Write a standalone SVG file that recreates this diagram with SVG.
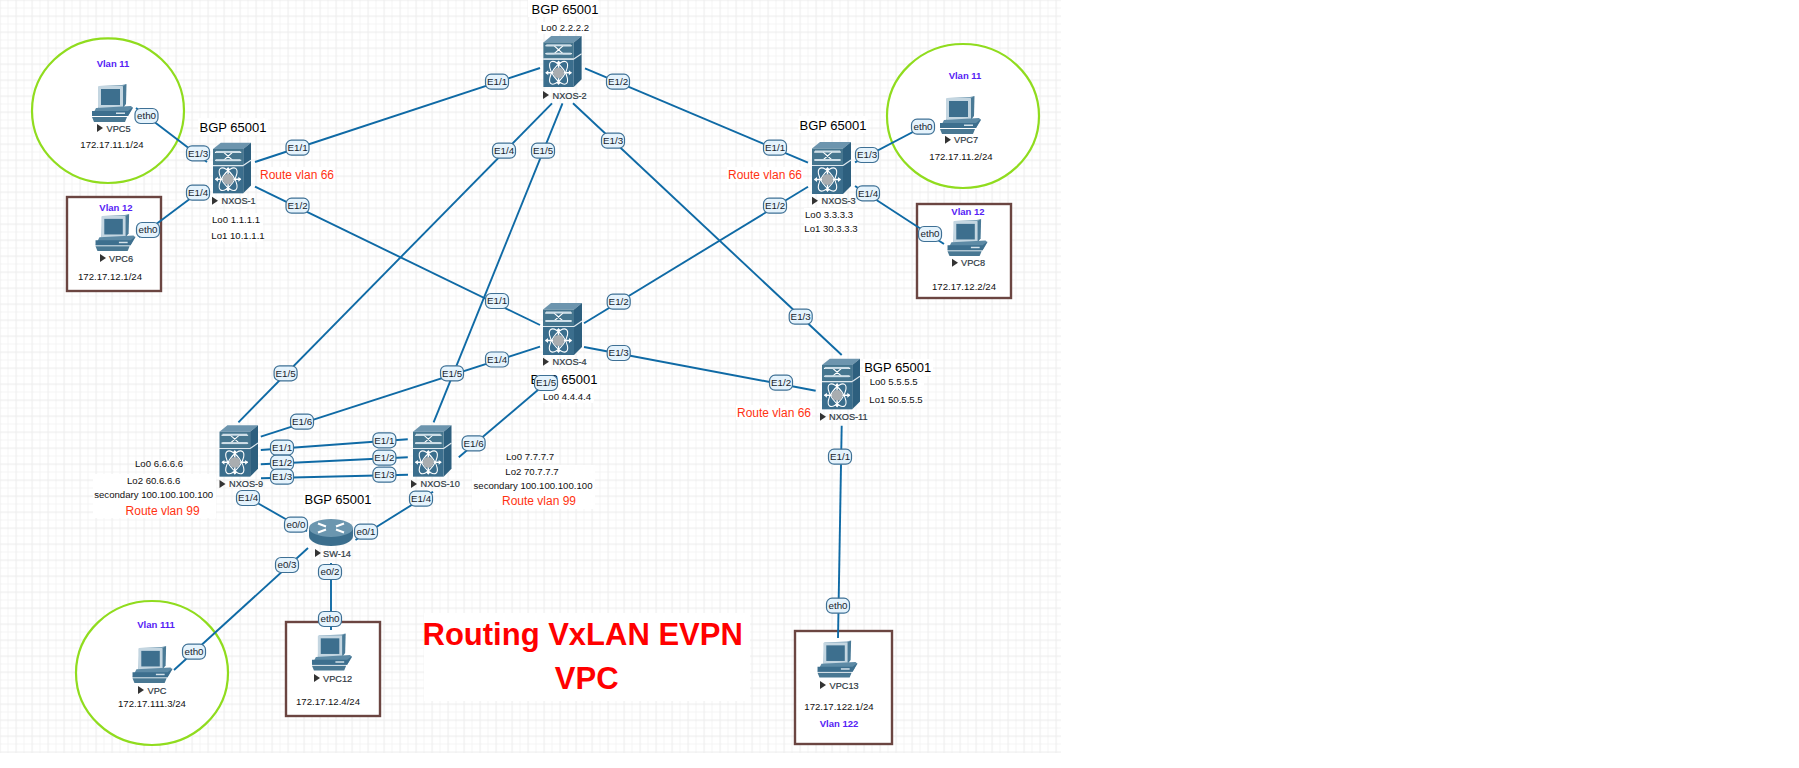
<svg xmlns="http://www.w3.org/2000/svg" width="1799" height="768" viewBox="0 0 1799 768">
<style>
text{font-family:"Liberation Sans",Arial,sans-serif}
.bgp{font-size:13px;fill:#000;text-anchor:middle}
.sm{font-size:9.6px;fill:#111;text-anchor:middle}
.rt{font-size:12px;fill:#ff3312;text-anchor:middle}
.vl{font-size:9.5px;font-weight:bold;fill:#5522f5;text-anchor:middle}
.nm{font-size:9.2px;fill:#2f3a44;text-anchor:start;stroke:#2f3a44;stroke-width:.2}
.pt{font-size:9.8px;fill:#16232d;text-anchor:middle}
.ti{font-size:31px;font-weight:bold;fill:#f00;text-anchor:middle}
.ln{stroke:#0f6aa5;stroke-width:1.9;fill:none}
.tri{fill:#333}
.wb{fill:#fff}
.cir{fill:#fff;stroke:#90dc1e;stroke-width:2.2}
.box{fill:#fff;stroke:#6b4541;stroke-width:2.4}
.lb{fill:#e5f3fc;stroke:#3e7095;stroke-width:1.2}
</style>
<defs>
<pattern id="grid" width="16" height="16" patternUnits="userSpaceOnUse" x="-.5" y="-.5">
<path d="M8.5 0V16M0 8.5H16" stroke="#f4f4f4" stroke-width="1" fill="none"/>
<path d="M.5 0V16M0 .5H16" stroke="#eeeeee" stroke-width="1.4" fill="none"/>
</pattern>
<symbol id="sw" viewBox="0 0 39 52" overflow="visible">
<polygon points="0,6.500 8,0 39,0 31,6.500" fill="#6d95ae"/>
<polygon points="31,6.500 39,0 39,44 31,52" fill="#2d5f7e"/>
<rect x="0" y="6.500" width="31" height="16.500" fill="#46768f"/>
<rect x="0" y="24" width="31" height="28" fill="#3b6e8d"/>
<path d="M0 23.500H31M31 23.500L39 18" stroke="#dfe9ef" stroke-width="1.200" fill="none"/>
<path d="M2 10H11L20 18H29M2 18H11L20 10H29" stroke="#fff" stroke-width="1.100" fill="none"/>
<rect x="3" y="8.500" width="25" height="2" fill="#cfdfe8"/>
<rect x="3" y="17" width="25" height="2" fill="#cfdfe8"/>
<g fill="none" stroke="#fff" stroke-width="1.100">
<ellipse cx="15.500" cy="37.500" rx="13.500" ry="6" transform="rotate(55 15.500 37.500)"/>
<ellipse cx="15.500" cy="37.500" rx="13.500" ry="6" transform="rotate(-55 15.500 37.500)"/>
</g>
<path d="M15.500 26V49M2.500 37.500H28.500" stroke="#fff" stroke-width="1.500"/>
<path d="M15.500 25l-2.500 3h5zM15.500 50l-2.500-3h5zM2 37.500l3-2.500v5zM29 37.500l-3-2.500v5z" fill="#fff"/>
<circle cx="15.500" cy="37.500" r="5.500" fill="#a9adb0"/>
</symbol>
<symbol id="rt" viewBox="0 0 44 27" overflow="visible">
<path d="M0 9V17C0 23 10 27 22 27S44 23 44 17V9Z" fill="#3b6e8d"/>
<ellipse cx="22" cy="9" rx="22" ry="9" fill="#6b96af"/>
<path d="M9 4.500l8 3M35 4.500l-8 3M9 13.500l8-3M35 13.500l-8-3" stroke="#fff" stroke-width="2" fill="none"/>
</symbol>
<symbol id="pc" viewBox="0 0 42 38" overflow="visible">
<polygon points="8,2 31,1 35,0 34,20 30,24 7,24" fill="#7ea3b9"/>
<rect x="7" y="2" width="25" height="22" rx="1" fill="#c4d6e1"/>
<rect x="10" y="5" width="19" height="16" fill="#3d6f8e"/>
<polygon points="32,2 35.500,0 35,20 32,24" fill="#4a7a96"/>
<polygon points="5,24 40,22 42,24 37,32 1,32" fill="#5d8aa5"/>
<polygon points="1,27 37,27 42,23 37,32 1,32" fill="#3d6f8e"/>
<rect x="25" y="28.500" width="9" height="1.500" fill="#d5e2ea"/>
<polygon points="1,33 36,33 34,38 3,38" fill="#497893"/>
</symbol>
<rect id="pb" x="-11.500" y="-7.500" width="23" height="15" rx="5.500" class="lb"/>
<polygon id="pl" points="0,-4 6,0 0,4" class="tri"/>
</defs>
<rect width="1799" height="768" fill="#fff"/>
<rect width="1061" height="753" fill="url(#grid)"/>

<g id="vpc5"><ellipse class="cir" cx="108" cy="110.700" rx="76" ry="72.300"/><text class="vl" x="113" y="67">Vlan 11</text><use href="#pc" x="91" y="84" width="42" height="38"/><use href="#pl" x="97" y="128"/><text class="nm" x="106.500" y="131.500">VPC5</text><text class="sm" x="112" y="148">172.17.11.1/24</text></g>
<g id="vpc6"><rect class="box" x="67" y="197" width="94" height="94"/><text class="vl" x="116" y="211">Vlan 12</text><use href="#pc" x="94" y="214" width="42" height="37"/><use href="#pl" x="100" y="258"/><text class="nm" x="109" y="261.500">VPC6</text><text class="sm" x="110" y="280">172.17.12.1/24</text></g>
<g id="nxos1"><use href="#sw" x="213" y="142" width="38" height="52"/><use href="#pl" x="212" y="200.700"/><text class="nm" x="221.500" y="204">NXOS-1</text>
<rect class="wb" x="198" y="118" width="70" height="17"/><text class="bgp" x="233" y="132">BGP 65001</text>
<rect class="wb" x="259" y="167" width="76" height="15"/><text class="rt" x="297" y="179">Route vlan 66</text>
<rect class="wb" x="211" y="213" width="52" height="29"/><text class="sm" x="236" y="223">Lo0 1.1.1.1</text><text class="sm" x="238" y="239">Lo1 10.1.1.1</text></g>
<g id="nxos2"><rect class="wb" x="528" y="0" width="70" height="17"/><text class="bgp" x="565" y="14">BGP 65001</text><rect class="wb" x="538" y="22" width="52" height="12"/><text class="sm" x="565" y="31">Lo0 2.2.2.2</text><use href="#sw" x="543" y="36" width="39" height="51"/><use href="#pl" x="543" y="95"/><text class="nm" x="552.500" y="98.500">NXOS-2</text></g>
<g id="nxos3"><rect class="wb" x="798" y="116" width="70" height="17"/><text class="bgp" x="833" y="130">BGP 65001</text><use href="#sw" x="812" y="142" width="39" height="52"/><use href="#pl" x="812" y="200.700"/><text class="nm" x="821.500" y="204">NXOS-3</text>
<rect class="wb" x="727" y="167" width="76" height="15"/><text class="rt" x="765" y="179">Route vlan 66</text>
<rect class="wb" x="804" y="208" width="54" height="27"/><text class="sm" x="829" y="218">Lo0 3.3.3.3</text><text class="sm" x="831" y="232">Lo1 30.3.3.3</text></g>
<g id="nxos4"><use href="#sw" x="543" y="303" width="39" height="52"/><use href="#pl" x="543" y="361.700"/><text class="nm" x="552.500" y="365">NXOS-4</text><rect class="wb" x="530" y="371" width="70" height="17"/><text class="bgp" x="564" y="384">BGP 65001</text><rect class="wb" x="542" y="390" width="52" height="13"/><text class="sm" x="567" y="400">Lo0 4.4.4.4</text></g>
<g id="nxos11"><use href="#sw" x="822" y="358" width="38" height="52"/><use href="#pl" x="820" y="416.700"/><text class="nm" x="829" y="420">NXOS-11</text><rect class="wb" x="863" y="359" width="70" height="17"/><text class="bgp" x="897.700" y="372">BGP 65001</text><rect class="wb" x="868" y="376" width="56" height="30"/><text class="sm" x="893.700" y="385">Lo0 5.5.5.5</text><text class="sm" x="896" y="403">Lo1 50.5.5.5</text><rect class="wb" x="736" y="405" width="76" height="15"/><text class="rt" x="774" y="417">Route vlan 66</text></g>
<g id="nxos9"><use href="#sw" x="219.500" y="425" width="38.500" height="52"/><use href="#pl" x="219.500" y="484"/><text class="nm" x="229" y="487.300">NXOS-9</text>
<rect class="wb" x="93" y="474" width="123" height="44"/><text class="sm" x="159" y="467">Lo0 6.6.6.6</text><text class="sm" x="153.700" y="484">Lo2 60.6.6.6</text><text class="sm" x="153.700" y="498">secondary 100.100.100.100</text><text class="rt" x="162.600" y="515">Route vlan 99</text></g>
<g id="nxos10"><use href="#sw" x="413" y="425" width="38.500" height="52"/><use href="#pl" x="411" y="484"/><text class="nm" x="420.500" y="487.300">NXOS-10</text>
<rect class="wb" x="472" y="465" width="123" height="44"/><text class="sm" x="530" y="460">Lo0 7.7.7.7</text><text class="sm" x="532" y="475">Lo2 70.7.7.7</text><text class="sm" x="533" y="488.500">secondary 100.100.100.100</text><text class="rt" x="539" y="505">Route vlan 99</text></g>
<g id="sw14"><rect class="wb" x="303" y="491" width="70" height="17"/><text class="bgp" x="338" y="504">BGP 65001</text><use href="#rt" x="309" y="519" width="44" height="27"/><use href="#pl" x="315" y="553"/><text class="nm" x="323" y="556.500">SW-14</text></g>
<g id="vpc7"><ellipse class="cir" cx="963" cy="116" rx="76" ry="72"/><text class="vl" x="965" y="78.500">Vlan 11</text><use href="#pc" x="939" y="96" width="42" height="38"/><use href="#pl" x="945" y="139.700"/><text class="nm" x="954" y="143">VPC7</text><text class="sm" x="961" y="160">172.17.11.2/24</text></g>
<g id="vpc8"><rect class="box" x="917" y="204" width="94" height="94"/><text class="vl" x="968" y="215">Vlan 12</text><use href="#pc" x="946" y="219" width="42" height="37"/><use href="#pl" x="952" y="262.700"/><text class="nm" x="961" y="266">VPC8</text><text class="sm" x="964" y="290">172.17.12.2/24</text></g>
<g id="vpc"><ellipse class="cir" cx="152" cy="673" rx="76" ry="72"/><text class="vl" x="156" y="628">Vlan 111</text><use href="#pc" x="131" y="646" width="42" height="37"/><use href="#pl" x="138" y="690"/><text class="nm" x="147.500" y="693.500">VPC</text><text class="sm" x="152" y="707">172.17.111.3/24</text></g>
<g id="vpc12"><rect class="box" x="286" y="622" width="94" height="94"/><use href="#pc" x="311" y="633" width="41" height="38"/><use href="#pl" x="314" y="678"/><text class="nm" x="323" y="681.500">VPC12</text><text class="sm" x="328" y="705">172.17.12.4/24</text></g>
<g id="vpc13"><rect class="box" x="795" y="631" width="97" height="113"/><use href="#pc" x="816" y="640.500" width="42" height="37"/><use href="#pl" x="820" y="685"/><text class="nm" x="829.500" y="688.500">VPC13</text><text class="sm" x="839" y="710">172.17.122.1/24</text><text class="vl" x="839" y="727">Vlan 122</text></g>
<g id="title"><rect class="wb" x="424" y="613" width="326" height="88"/><text class="ti" x="582.700" y="645">Routing VxLAN EVPN</text><text class="ti" x="586.700" y="689">VPC</text></g>

<g id="connectors">
<path class="ln" d="M255 162L540 68"/>
<path class="ln" d="M255 186.700L540 325"/>
<path class="ln" d="M207 162L136 108"/>
<path class="ln" d="M207 186L139 237"/>
<path class="ln" d="M585 68.300L808 162.700"/>
<path class="ln" d="M552 103.300L238.400 422.300"/>
<path class="ln" d="M562.500 103.300L433.600 422.300"/>
<path class="ln" d="M573 103.300L841.700 355"/>
<path class="ln" d="M808 186.700L584 323.300"/>
<path class="ln" d="M855 162.300L930 123"/>
<path class="ln" d="M855 186L944 244"/>
<path class="ln" d="M584 347L815.700 390.700"/>
<path class="ln" d="M540 346.700L260.800 436.700"/>
<path class="ln" d="M552 378L458.800 457.300"/>
<path class="ln" d="M260.800 450L407.800 439.300"/>
<path class="ln" d="M260.800 464.300L407.800 457.300"/>
<path class="ln" d="M261 478.300L408 474.700"/>
<path class="ln" d="M240 493L307 531.300"/>
<path class="ln" d="M433 491.700L355.500 540"/>
<path class="ln" d="M308 548L174 670"/>
<path class="ln" d="M331 563V630"/>
<path class="ln" d="M841.700 425.700L838 638"/>
<g transform="translate(297.500 147.700)"><use href="#pb"/><text class="pt" y="3.300">E1/1</text></g>
<g transform="translate(497 81.700)"><use href="#pb"/><text class="pt" y="3.300">E1/1</text></g>
<g transform="translate(297.500 205.700)"><use href="#pb"/><text class="pt" y="3.300">E1/2</text></g>
<g transform="translate(497 301)"><use href="#pb"/><text class="pt" y="3.300">E1/1</text></g>
<g transform="translate(198 153.300)"><use href="#pb"/><text class="pt" y="3.300">E1/3</text></g>
<g transform="translate(146.500 116)"><use href="#pb"/><text class="pt" y="3.300">eth0</text></g>
<g transform="translate(198 192.700)"><use href="#pb"/><text class="pt" y="3.300">E1/4</text></g>
<g transform="translate(148 230)"><use href="#pb"/><text class="pt" y="3.300">eth0</text></g>
<g transform="translate(618 81.700)"><use href="#pb"/><text class="pt" y="3.300">E1/2</text></g>
<g transform="translate(775 147.700)"><use href="#pb"/><text class="pt" y="3.300">E1/1</text></g>
<g transform="translate(504 150.700)"><use href="#pb"/><text class="pt" y="3.300">E1/4</text></g>
<g transform="translate(285.600 373.300)"><use href="#pb"/><text class="pt" y="3.300">E1/5</text></g>
<g transform="translate(543 150.700)"><use href="#pb"/><text class="pt" y="3.300">E1/5</text></g>
<g transform="translate(452 373.300)"><use href="#pb"/><text class="pt" y="3.300">E1/5</text></g>
<g transform="translate(613 140.700)"><use href="#pb"/><text class="pt" y="3.300">E1/3</text></g>
<g transform="translate(800.700 316.700)"><use href="#pb"/><text class="pt" y="3.300">E1/3</text></g>
<g transform="translate(775 205.700)"><use href="#pb"/><text class="pt" y="3.300">E1/2</text></g>
<g transform="translate(618.700 301.700)"><use href="#pb"/><text class="pt" y="3.300">E1/2</text></g>
<g transform="translate(867 155)"><use href="#pb"/><text class="pt" y="3.300">E1/3</text></g>
<g transform="translate(923 126.700)"><use href="#pb"/><text class="pt" y="3.300">eth0</text></g>
<g transform="translate(868 193.300)"><use href="#pb"/><text class="pt" y="3.300">E1/4</text></g>
<g transform="translate(930 234)"><use href="#pb"/><text class="pt" y="3.300">eth0</text></g>
<g transform="translate(618.700 353)"><use href="#pb"/><text class="pt" y="3.300">E1/3</text></g>
<g transform="translate(781 382.700)"><use href="#pb"/><text class="pt" y="3.300">E1/2</text></g>
<g transform="translate(497 359.500)"><use href="#pb"/><text class="pt" y="3.300">E1/4</text></g>
<g transform="translate(302 421.700)"><use href="#pb"/><text class="pt" y="3.300">E1/6</text></g>
<g transform="translate(546 383)"><use href="#pb"/><text class="pt" y="3.300">E1/5</text></g>
<g transform="translate(473.600 443.300)"><use href="#pb"/><text class="pt" y="3.300">E1/6</text></g>
<g transform="translate(282 447.700)"><use href="#pb"/><text class="pt" y="3.300">E1/1</text></g>
<g transform="translate(384.400 440.300)"><use href="#pb"/><text class="pt" y="3.300">E1/1</text></g>
<g transform="translate(282 462.700)"><use href="#pb"/><text class="pt" y="3.300">E1/2</text></g>
<g transform="translate(384.400 457.700)"><use href="#pb"/><text class="pt" y="3.300">E1/2</text></g>
<g transform="translate(282 476.700)"><use href="#pb"/><text class="pt" y="3.300">E1/3</text></g>
<g transform="translate(384.400 474.700)"><use href="#pb"/><text class="pt" y="3.300">E1/3</text></g>
<g transform="translate(248 498)"><use href="#pb"/><text class="pt" y="3.300">E1/4</text></g>
<g transform="translate(296 524.700)"><use href="#pb"/><text class="pt" y="3.300">e0/0</text></g>
<g transform="translate(421 498.700)"><use href="#pb"/><text class="pt" y="3.300">E1/4</text></g>
<g transform="translate(366 531.700)"><use href="#pb"/><text class="pt" y="3.300">e0/1</text></g>
<g transform="translate(287 565)"><use href="#pb"/><text class="pt" y="3.300">e0/3</text></g>
<g transform="translate(194 651.700)"><use href="#pb"/><text class="pt" y="3.300">eth0</text></g>
<g transform="translate(330 572)"><use href="#pb"/><text class="pt" y="3.300">e0/2</text></g>
<g transform="translate(330 619)"><use href="#pb"/><text class="pt" y="3.300">eth0</text></g>
<g transform="translate(840 456.700)"><use href="#pb"/><text class="pt" y="3.300">E1/1</text></g>
<g transform="translate(838 605.700)"><use href="#pb"/><text class="pt" y="3.300">eth0</text></g>
</g>
</svg>
